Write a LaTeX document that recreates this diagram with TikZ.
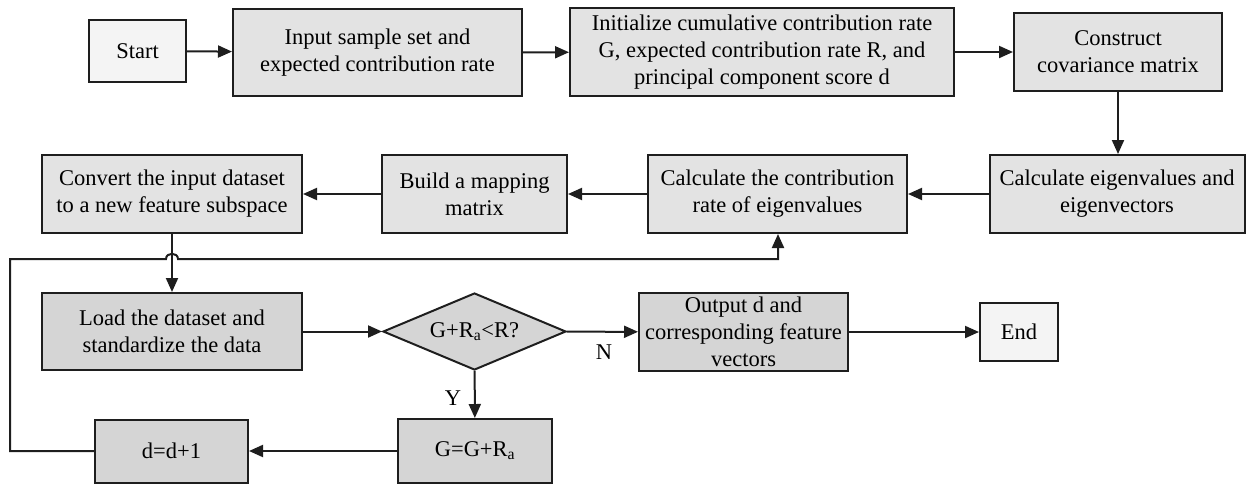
\documentclass[tikz,border=0pt]{standalone}
\usepackage{fontspec}
\setmainfont{Liberation Serif}
\usetikzlibrary{shapes.geometric,arrows.meta}
\definecolor{boxA}{HTML}{E3E3E3}
\definecolor{boxB}{HTML}{D5D5D5}
\definecolor{boxC}{HTML}{F4F4F4}
\definecolor{lineC}{HTML}{1E1E1E}
\begin{document}
\begin{tikzpicture}[x=1pt,y=-1pt,
  base/.style={draw=lineC, line width=2pt, align=center, inner sep=2pt, text=black,
    font=\fontsize{22.5}{27}\selectfont},
  pbox/.style={base, fill=boxA},
  dbox/.style={base, fill=boxB},
  tbox/.style={base, fill=boxC},
  dec/.style={base, fill=boxB, shape=diamond, aspect=2.4, inner sep=0pt},
  arr/.style={line width=2pt, draw=lineC, -{Triangle[length=14pt,width=12pt]}},
  lbl/.style={font=\fontsize{22.5}{27}\selectfont, text=black}]
\useasboundingbox (0,0) rectangle (1247,485);

% top row
\node[tbox, minimum width=97pt, minimum height=62pt] (start) at (137.5,51) {Start};
\node[pbox, minimum width=289pt, minimum height=87pt] (input) at (377.5,52.5) {Input sample set and\\expected contribution rate};
\node[pbox, minimum width=384pt, minimum height=88pt] (init) at (762,52) {Initialize cumulative contribution rate\\G, expected contribution rate R, and\\principal component score d};
\node[pbox, minimum width=208pt, minimum height=78pt] (cov) at (1118,52) {Construct\\covariance matrix};

% second row
\node[pbox, minimum width=255pt, minimum height=78pt] (eig) at (1117,194) {Calculate eigenvalues and\\eigenvectors};
\node[pbox, minimum width=259pt, minimum height=78pt] (contrib) at (777.5,194) {Calculate the contribution\\rate of eigenvalues};
\node[pbox, minimum width=185pt, minimum height=78pt] (build) at (474.5,194) {Build a mapping\\matrix};
\node[pbox, minimum width=260pt, minimum height=78pt] (conv) at (172,194) {Convert the input dataset\\to a new feature subspace};

% third row
\node[dbox, minimum width=260pt, minimum height=77pt] (load) at (172,331.5) {Load the dataset and\\standardize the data};
\node[dec, minimum width=183pt, minimum height=77pt] (dia) at (474.5,331.5) {G+R\textsubscript{a}<R?};
\node[dbox, minimum width=209pt, minimum height=78pt] (out) at (743.5,332) {Output d and\\corresponding feature\\vectors};
\node[tbox, minimum width=78pt, minimum height=58pt] (end) at (1019,332) {End};

% bottom row
\node[dbox, minimum width=154pt, minimum height=64pt] (gg) at (475,451) {G=G+R\textsubscript{a}};
\node[dbox, minimum width=153pt, minimum height=63pt] (dd) at (171.5,451) {d=d+1};

% loop coordinates
\coordinate (lA) at (10,451);
\coordinate (lB) at (10,259);
\coordinate (jL) at (166,259);
\coordinate (jR) at (178,259);
\coordinate (lC) at (778,259);

% connectors
\draw[arr] (start) -- (input);
\draw[arr] (input) -- (init);
\draw[arr] (init) -- (cov);
\draw[arr] (cov.south) -- (cov.south |- eig.north);
\draw[arr] (eig) -- (contrib);
\draw[arr] (contrib) -- (build);
\draw[arr] (build) -- (conv);
\draw[arr] (conv) -- (load);
\draw[arr] (load) -- (dia);
\draw[arr] (dia) -- (out);
\draw[arr] (out) -- (end);
\draw[arr] (dia) -- (gg);
\draw[arr] (gg) -- (dd);
\draw[arr] (dd.west) -- (lA) -- (lB) -- (jL) .. controls (166,252) and (178,252) .. (jR) -- (lC) -- (lC |- contrib.south);

% labels
\node[lbl] (nlab) at (604,352) {N};
\node[lbl] (ylab) at (453,398) {Y};
\end{tikzpicture}
\end{document}
